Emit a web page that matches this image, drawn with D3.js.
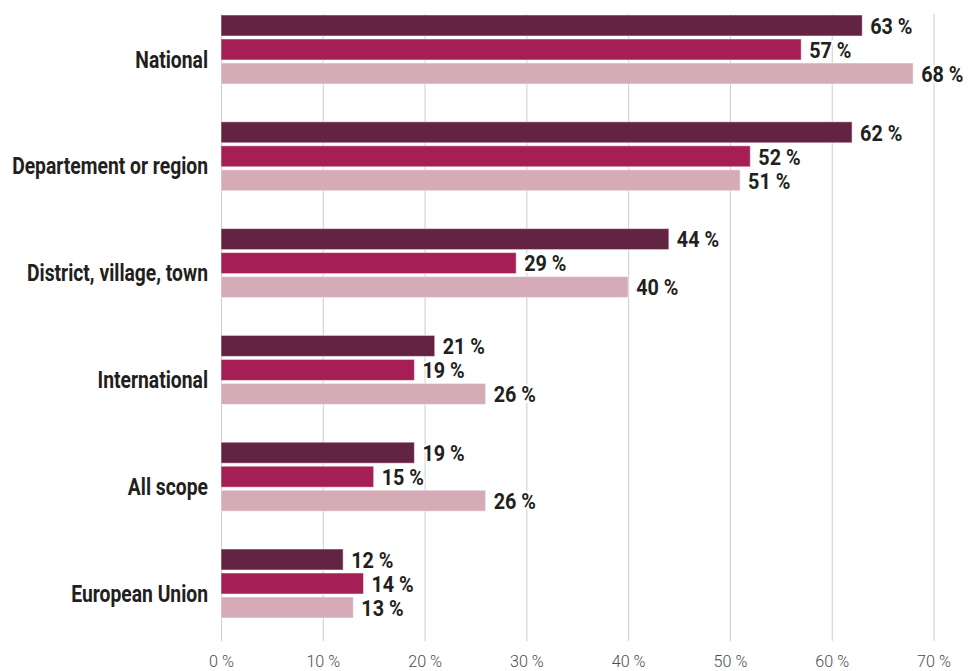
<html lang="en">
<head>
  <meta charset="UTF-8"/>
  <title>Scope bars</title>
  <script src="https://d3js.org/d3.v7.min.js"></script>
  <style>
body {
  margin: 0;
  background: #fff;
}
svg {
  display: block;
}
text {
  font-family: Roboto, 'Liberation Sans', sans-serif;
}
.grid .domain {
  display: none;
}
.grid .tick line {
  stroke: #cccccc;
  stroke-width: 1;
}
.grid .tick text {
  font-size: 17px;
  font-weight: 300;
  fill: #4d4d4d;
}
text.cat {
  font-size: 23px;
  font-weight: 700;
  fill: #231f20;
}
text.value {
  font-size: 22px;
  font-weight: 700;
  fill: #231f20;
  stroke: #fff;
  stroke-width: 4px;
  paint-order: stroke;
}
  </style>
</head>
<body>
<svg width="975" height="671"></svg>
<script>

const categories = ['National', 'Departement or region', 'District, village, town', 'International', 'All scope', 'European Union'];
const series = ['Series 1', 'Series 2', 'Series 3'];
const series1 = [63, 62, 44, 21, 19, 12];
const series2 = [57, 52, 29, 19, 15, 14];
const series3 = [68, 51, 40, 26, 26, 13];
const tickValues = [0, 10, 20, 30, 40, 50, 60, 70];
const colors = ['#632443', '#a51e56', '#d5abb8'];

const values = [series1, series2, series3];
const rows = [];
categories.forEach((c, i) => {
  series.forEach((s, j) => {
    rows.push({ category: c, series: s, value: values[j][i], idx: j });
  });
});

const svg = d3.select('svg');

const gridTop = 14;
const gridBottom = 641;
// no condensed font installed, so squeeze the glyphs a bit
const squeezeCat = 0.84;
const squeezeVal = 0.9;

const xScale = d3.scaleLinear()
  .domain([0, 70])
  .range([221, 933.5]);

const yGroup = d3.scaleBand()
  .domain(categories)
  .range([15, 618])
  .paddingInner(0.354)
  .paddingOuter(0);

const ySeries = d3.scaleBand()
  .domain(series)
  .range([0, yGroup.bandwidth()])
  .paddingInner(0.125);

// vertical grid lines + tick labels
const grid = svg.append('g')
  .attr('class', 'grid')
  .attr('transform', `translate(0, ${gridBottom})`)
  .call(d3.axisBottom(xScale)
    .tickValues(tickValues)
    .tickSize(-(gridBottom - gridTop))
    .tickPadding(14)
    .tickFormat(d => d + ' %'));

grid.selectAll('.tick text')
  .attr('transform', 'scale(0.95, 1)');

const chart = svg.append('g');

chart.selectAll('rect.bar')
  .data(rows)
  .enter()
  .append('rect')
  .attr('class', 'bar')
  .attr('x', xScale(0))
  .attr('y', d => yGroup(d.category) + ySeries(d.series))
  .attr('width', d => xScale(d.value) - xScale(0))
  .attr('height', ySeries.bandwidth())
  .attr('fill', d => colors[d.idx])
  .attr('stroke', '#fff')
  .attr('stroke-opacity', 0.5)
  .attr('stroke-width', 1);

chart.selectAll('text.value')
  .data(rows)
  .enter()
  .append('text')
  .attr('class', 'value')
  .attr('transform', d => {
    const x = xScale(d.value) + 8;
    const y = yGroup(d.category) + ySeries(d.series) + ySeries.bandwidth() / 2 + 1;
    return `translate(${x}, ${y}) scale(${squeezeVal}, 1)`;
  })
  .attr('dominant-baseline', 'central')
  .text(d => d.value + ' %');

chart.selectAll('text.cat')
  .data(categories)
  .enter()
  .append('text')
  .attr('class', 'cat')
  .attr('transform', d => `translate(208, ${yGroup(d) + yGroup.bandwidth() / 2 + 10}) scale(${squeezeCat}, 1)`)
  .attr('text-anchor', 'end')
  .attr('dominant-baseline', 'central')
  .text(d => d);

</script>
</body>
</html>
